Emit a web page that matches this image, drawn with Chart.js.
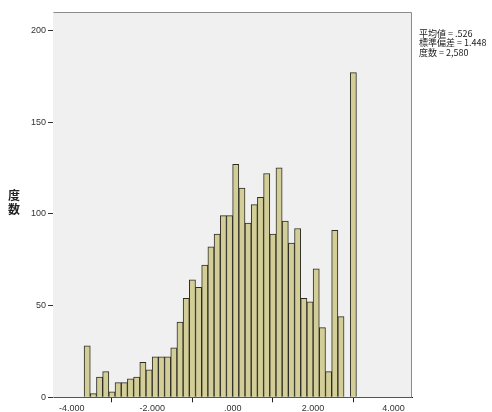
<!DOCTYPE html>
<html>
<head>
<meta charset="utf-8">
<script src="https://cdn.jsdelivr.net/npm/chart.js@4/dist/chart.umd.min.js"></script>
<style>
  html, body { margin: 0; padding: 0; background: #ffffff; }
  #wrap { width: 492px; height: 412px; }
</style>
</head>
<body>
<div id="wrap"><canvas id="hist" width="492" height="412"></canvas></div>
<script>
// Histogram bins: width 2/13, first bin starting at -2 - 11 * (2/13)
const binWidth = 2 / 13;
const firstBinStart = -2 - 11 * binWidth;

// Counts per bin, left to right
const binCounts = [
  28, 2, 11, 14, 3, 8, 8, 10, 11, 19,
  15, 22, 22, 22, 27, 41, 54, 64, 60, 72,
  82, 89, 99, 99, 127, 114, 95, 105, 109, 122,
  89, 125, 96, 84, 92, 54, 52, 70, 38, 14,
  91, 44, 0, 177
];

// Axis ticks and their labels
const xTicks = [-4, -2, 0, 2, 4];
const xTickLabels = ['-4.000', '-2.000', '.000', '2.000', '4.000'];
const yTicks = [0, 50, 100, 150, 200];

// Summary statistics shown beside the plot
const statLines = ['平均値 = .526', '標準偏差 = 1.448', '度数 = 2,580'];
const yTitleChars = ['度', '数'];

const points = binCounts.map((c, i) => ({
  x: firstBinStart + (i + 0.5) * binWidth,
  y: c
}));

const plotBackground = {
  id: 'plotBackground',
  beforeDatasetsDraw(chart) {
    const { ctx, chartArea: a } = chart;
    ctx.save();
    ctx.fillStyle = '#f0f0f0';
    ctx.fillRect(a.left, a.top, a.right - a.left, a.bottom - a.top);
    ctx.restore();
  },
  afterDraw(chart) {
    const { ctx, chartArea: a } = chart;
    ctx.save();
    ctx.strokeStyle = '#8c8c8c';
    ctx.lineWidth = 1;
    ctx.beginPath();
    ctx.moveTo(a.left + 0.5, a.top + 0.5);
    ctx.lineTo(a.right - 0.5, a.top + 0.5);
    ctx.lineTo(a.right - 0.5, a.bottom);
    ctx.stroke();

    // statistics box text
    ctx.fillStyle = '#222222';
    ctx.font = '9px "Noto Sans CJK JP", "Liberation Sans", sans-serif';
    ctx.textAlign = 'left';
    ctx.textBaseline = 'middle';
    statLines.forEach((t, i) => ctx.fillText(t, a.right + 7, 33.5 + i * 9.5));

    // vertical axis title, one character per line
    ctx.font = 'bold 12px "Noto Sans CJK JP", sans-serif';
    ctx.textAlign = 'center';
    yTitleChars.forEach((t, i) => ctx.fillText(t, 14, 195 + i * 14.5));
    ctx.restore();
  }
};

new Chart(document.getElementById('hist'), {
  type: 'bar',
  data: {
    datasets: [{
      data: points,
      backgroundColor: '#d3ce97',
      borderColor: '#2c2c24',
      borderWidth: 1,
      barPercentage: 1,
      categoryPercentage: 1
    }]
  },
  options: {
    responsive: false,
    devicePixelRatio: 1,
    animation: false,
    layout: { padding: { top: 12, right: 80, left: 0, bottom: 0 } },
    plugins: {
      legend: { display: false },
      tooltip: { enabled: false }
    },
    scales: {
      x: {
        type: 'linear',
        offset: false,
        min: -4.465,
        max: 4.458,
        afterBuildTicks: s => { s.ticks = xTicks.map(v => ({ value: v })); },
        afterFit: s => { s.height = 14.7; },
        grid: { display: true, drawOnChartArea: false, drawTicks: true, tickLength: 5, color: '#222222' },
        border: { display: true, color: '#111111', width: 1 },
        ticks: {
          padding: 1,
          maxRotation: 0,
          autoSkip: false,
          color: '#333333',
          font: { size: 9, family: '"Liberation Sans", Arial, sans-serif' },
          callback: (v, i) => xTickLabels[i]
        }
      },
      y: {
        min: 0,
        max: 210,
        afterBuildTicks: s => { s.ticks = yTicks.map(v => ({ value: v })); },
        afterFit: s => { s.width = 53; },
        grid: { display: true, drawOnChartArea: false, drawTicks: true, tickLength: 5, color: '#333333' },
        border: { display: true, color: '#6e6e6e', width: 1 },
        ticks: {
          padding: 2,
          color: '#333333',
          font: { size: 9, family: '"Liberation Sans", Arial, sans-serif' }
        }
      }
    }
  },
  plugins: [plotBackground]
});
</script>
</body>
</html>
